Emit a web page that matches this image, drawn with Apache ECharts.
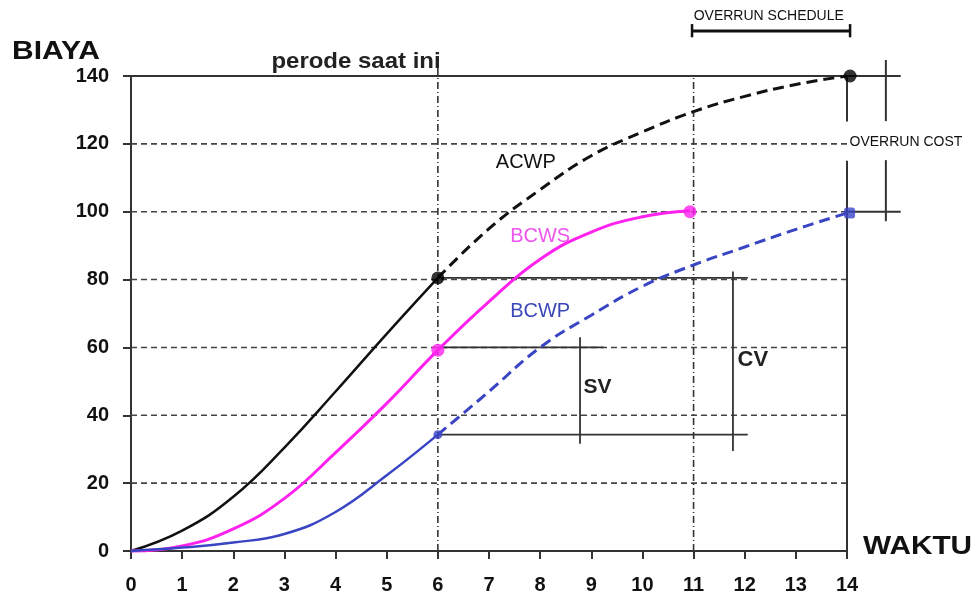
<!DOCTYPE html>
<html>
<head>
<meta charset="utf-8">
<script src="https://cdn.jsdelivr.net/npm/echarts@6/dist/echarts.min.js"></script>
<style>html,body{margin:0;padding:0;background:#fff}#c{width:976px;height:599px}</style>
</head>
<body>
<div id="c"></div>
<script>
// ---- data ----
const xTicks = [0,1,2,3,4,5,6,7,8,9,10,11,12,13,14];
const yTicks = [0,20,40,60,80,100,120,140];
const acwpToDate   = [[0,0],[1,6],[2,16],[3,30.5],[4,47],[5,64],[6,80.5]];
const acwpForecast = [[6,80.5],[7,95],[8,106.5],[9,116.5],[10,123.5],[11,129.5],[12,134],[13,137.5],[14,140]];
const bcws         = [[0,0],[1,1.5],[2,6.5],[3,15.5],[4,29],[5,43.5],[6,59.2],[7,73.5],[8,86],[9,94],[10,98.5],[10.93,100.3]];
const bcwpToDate   = [[0,0],[1,1],[2,2.5],[3,5],[4,11.5],[5,22.3],[6,34.3]];
const bcwpForecast = [[6,34.3],[7,47],[8,60],[9,69.5],[10,78],[11,84.3],[12,89.6],[13,94.8],[14,99.6]];
const timeNow = 6, timePlanEnd = 11, timeForecastEnd = 14;
const acwpNow = 80.5, bcwsNow = 59.2, bcwpNow = 34.3;
const budget = 100, forecastCost = 140;
const svAt = 8.78, cvAt = 11.77;

const chart = echarts.init(document.getElementById('c'));
const dark = '#333';
function seg(data, color, width, type, extra){
  return Object.assign({type:'line', data:data, symbol:'none', silent:true, clip:false, z:3,
    lineStyle:{color:color, width:width, type:type||'solid'}}, extra||{});
}
const curve = {smooth:0.45, z:5};
const series = [];
// dashed grid lines from tick values
yTicks.filter(v => v > 0 && v < 140).forEach(v => {
  series.push(seg([[0,v],[timeForecastEnd,v]], '#444', 1.6, [6,4], {z:2}));
});
series.push(
  // x axis line
  seg([[0,0],[timeForecastEnd,0]], dark, 2),
  // reference lines
  seg([[0,forecastCost],[15.05,forecastCost]], dark, 2),
  seg([[timeForecastEnd,budget],[15.05,budget]], dark, 2),
  seg([[timeNow,0],[timeNow,145]], dark, 1.6, [7,3,1,3]),
  seg([[timePlanEnd,0],[timePlanEnd,140]], dark, 1.6, [7,3,1,3]),
  seg([[timeNow,acwpNow],[12.06,acwpNow]], dark, 1.8),
  seg([[timeNow,60],[9.24,60]], dark, 1.8),
  seg([[timeNow,bcwpNow],[12.06,bcwpNow]], dark, 1.8),
  seg([[svAt,63],[svAt,31.6]], dark, 1.8),
  seg([[cvAt,82.4],[cvAt,29.5]], dark, 1.8),
  seg([[timeForecastEnd,0],[timeForecastEnd,115]], dark, 2),
  seg([[timeForecastEnd,126.6],[timeForecastEnd,140]], dark, 2),
  seg([[14.76,97.2],[14.76,115.2]], dark, 2),
  seg([[14.76,126.7],[14.76,144.7]], dark, 2),
  // overrun schedule bracket
  seg([[10.97,153.3],[14.06,153.3]], '#111', 3),
  seg([[10.97,151.4],[10.97,155.3]], '#111', 2.5),
  seg([[14.06,151.4],[14.06,155.3]], '#111', 2.5),
  // curves
  seg(acwpToDate, '#111', 2.5, 'solid', curve),
  seg(acwpForecast, '#111', 3, [11,6], curve),
  seg(bcws, '#ff22ee', 3, 'solid', curve),
  seg(bcwpToDate, '#3a45c4', 2.5, 'solid', curve),
  seg(bcwpForecast, '#3a45c4', 3, [11,6], curve),
  // points
  {type:'scatter', z:6, silent:true, clip:false, symbolSize:13, itemStyle:{color:'#000'},
    data:[[timeNow,acwpNow],[timeForecastEnd+0.06,forecastCost]]},
  {type:'scatter', z:6, silent:true, clip:false, symbolSize:13, itemStyle:{color:'#ff22ee'},
    data:[[timeNow,bcwsNow],[10.93,budget]]},
  {type:'scatter', z:6, silent:true, clip:false, symbolSize:9, itemStyle:{color:'#3a45c4'},
    data:[[timeNow,bcwpNow]]},
  {type:'scatter', z:6, silent:true, clip:false, symbol:'roundRect', symbolSize:11, itemStyle:{color:'#3a45c4'},
    data:[[timeForecastEnd+0.05,99.6]]}
);

const unit = 716/14;
chart.setOption({
  animation:false,
  grid:{left:131, width:unit*15.2, top:76, bottom:48},
  xAxis:{type:'value', min:0, max:15.2, interval:1,
    axisLine:{show:false},
    axisTick:{show:true, length:8, customValues:xTicks, lineStyle:{color:dark, width:2}},
    axisLabel:{margin:24, fontSize:20, fontWeight:'bold', color:'#111', fontFamily:'Liberation Sans, Arial',
      customValues:xTicks,
      formatter:function(v){return xTicks.indexOf(v)>=0 ? String(v) : '';}},
    splitLine:{show:false}},
  yAxis:{type:'value', min:0, max:140, interval:20,
    axisLine:{show:true, lineStyle:{color:dark, width:2}},
    axisTick:{show:true, length:8, lineStyle:{color:dark, width:2}},
    axisLabel:{margin:22, fontSize:20, fontWeight:'bold', color:'#111', fontFamily:'Liberation Sans, Arial',
      formatter:function(v){return yTicks.indexOf(v)>=0 ? String(v) : '';}},
    splitLine:{show:false}},
  series:series
});

function px(x,y){return chart.convertToPixel({gridIndex:0},[x,y]);}
function txt(x,y,text,font,color,align,sx){
  const p = px(x,y);
  return {type:'text', x:p[0], y:p[1], scaleX:sx||1, z:20, silent:true,
    style:{text:text, font:font, fill:color, align:align||'center', verticalAlign:'middle'}};
}
const F = 'Liberation Sans, Arial, sans-serif';
chart.setOption({graphic:[
  {type:'text', x:12, y:40, scaleX:1.2, z:20, style:{text:'BIAYA', font:'bold 25px '+F, fill:'#111'}},
  {type:'text', x:863, y:535, scaleX:1.19, z:20, style:{text:'WAKTU', font:'bold 25px '+F, fill:'#111'}},
  txt(4.4,144.1,'perode saat ini','bold 22px '+F,'#222','center',1.09),
  txt(7.72,114.6,'ACWP','20px '+F,'#111'),
  txt(8.0,92.8,'BCWS','20px '+F,'#ee55ee'),
  txt(8.0,70.7,'BCWP','20px '+F,'#3b47b8'),
  txt(9.12,48.2,'SV','bold 21px '+F,'#222'),
  txt(12.16,56.4,'CV','bold 22px '+F,'#222'),
  txt(14.05,120.5,'OVERRUN COST','14px '+F,'#111','left'),
  txt(12.47,157.7,'OVERRUN SCHEDULE','14px '+F,'#111')
]});
</script>
</body>
</html>
